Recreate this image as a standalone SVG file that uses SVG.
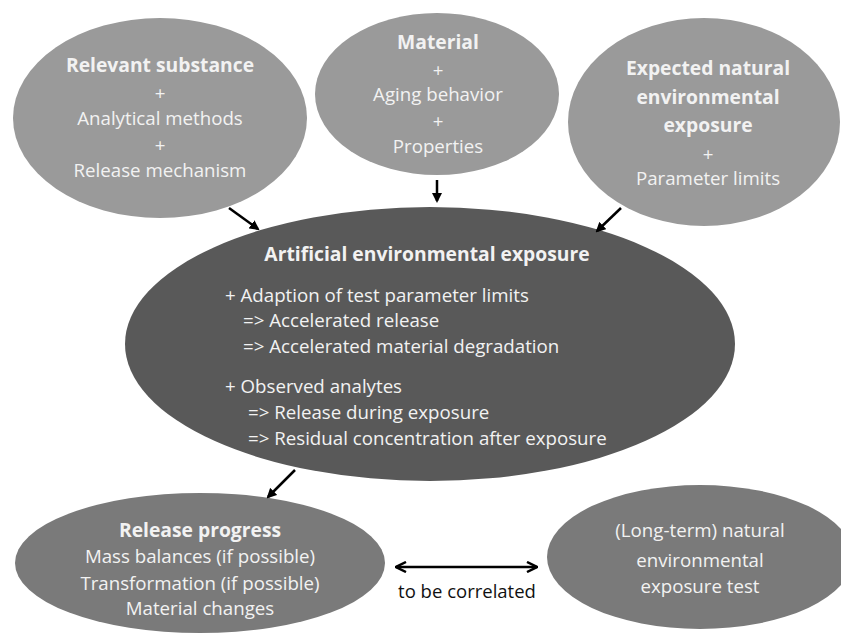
<svg xmlns="http://www.w3.org/2000/svg" width="841" height="636" viewBox="0 0 841 636">
  <defs>
    <marker id="head" viewBox="0 0 10 10" refX="8" refY="5" markerWidth="4" markerHeight="4" orient="auto-start-reverse" markerUnits="strokeWidth">
      <path d="M0,0 L10,5 L0,10 z" fill="#000"/>
    </marker>
    <marker id="chev" viewBox="0 0 10 10" refX="9" refY="5" markerWidth="5" markerHeight="5" orient="auto-start-reverse" markerUnits="strokeWidth">
      <path d="M1,1 L9,5 L1,9" fill="none" stroke="#000" stroke-width="2"/>
    </marker>
    <style>
      .light { fill: #9a9a9a; }
      .mid { fill: #7a7a7a; }
      .dark { fill: #595959; }
      text { font-family: "Open Sans", Lato, "Liberation Sans", sans-serif; fill: #f2f2f2; font-size: 18.7px; }
      .c { text-anchor: middle; }
      .b { font-weight: bold; font-size: 19.3px; }
      .lbl { fill: #111; font-size: 18.5px; }
      .arrow { stroke: #000; stroke-width: 2.5; fill: none; marker-end: url(#head); }
    </style>
  </defs>

  <rect width="841" height="636" fill="#fff"/>

  <g id="substance">
    <ellipse class="light" cx="160" cy="118" rx="147" ry="100"/>
    <text class="c b" x="160" y="72">Relevant substance</text>
    <text class="c" x="160" y="100">+</text>
    <text class="c" x="160" y="125">Analytical methods</text>
    <text class="c" x="160" y="152">+</text>
    <text class="c" x="160" y="177">Release mechanism</text>
  </g>

  <g id="material">
    <ellipse class="light" cx="437" cy="94" rx="122" ry="81"/>
    <text class="c b" x="438" y="49">Material</text>
    <text class="c" x="438" y="77">+</text>
    <text class="c" x="438" y="101">Aging behavior</text>
    <text class="c" x="438" y="128">+</text>
    <text class="c" x="438" y="153">Properties</text>
  </g>

  <g id="natural-exposure">
    <ellipse class="light" cx="704" cy="122" rx="136" ry="104"/>
    <text class="c b" x="708" y="75">Expected natural</text>
    <text class="c b" x="708" y="104">environmental</text>
    <text class="c b" x="708" y="132">exposure</text>
    <text class="c" x="708" y="161">+</text>
    <text class="c" x="708" y="185">Parameter limits</text>
  </g>

  <g id="artificial-exposure">
    <ellipse class="dark" cx="430" cy="344" rx="305" ry="137"/>
    <text class="c b" x="427" y="261" font-size="20.5">Artificial  environmental exposure</text>
    <text x="225" y="302">+ Adaption of test parameter limits</text>
    <text x="243" y="327">=&gt; Accelerated release</text>
    <text x="243" y="353">=&gt; Accelerated material degradation</text>
    <text x="225" y="393">+ Observed analytes</text>
    <text x="248" y="419">=&gt; Release during exposure</text>
    <text x="248" y="445">=&gt; Residual concentration after exposure</text>
  </g>

  <g id="release-progress">
    <ellipse class="mid" cx="200" cy="563" rx="185" ry="70"/>
    <text class="c b" x="200" y="537">Release progress</text>
    <text class="c" x="200" y="563">Mass balances (if possible)</text>
    <text class="c" x="200" y="590">Transformation (if possible)</text>
    <text class="c" x="200" y="615">Material changes</text>
  </g>

  <g id="natural-test">
    <ellipse class="mid" cx="700" cy="557" rx="153" ry="72"/>
    <text class="c" x="700" y="537">(Long-term) natural</text>
    <text class="c" x="700" y="567">environmental</text>
    <text class="c" x="700" y="593">exposure  test</text>
  </g>

  <g id="connectors">
    <line class="arrow" x1="229" y1="208" x2="258" y2="229"/>
    <line class="arrow" x1="437" y1="180" x2="437" y2="201"/>
    <line class="arrow" x1="621" y1="208" x2="597" y2="231"/>
    <line class="arrow" x1="295" y1="470" x2="268" y2="497"/>
    <line x1="396" y1="567" x2="537" y2="567" stroke="#000" stroke-width="2.5" marker-start="url(#chev)" marker-end="url(#chev)"/>
    <text class="c lbl" x="467" y="598">to be correlated</text>
  </g>
</svg>
